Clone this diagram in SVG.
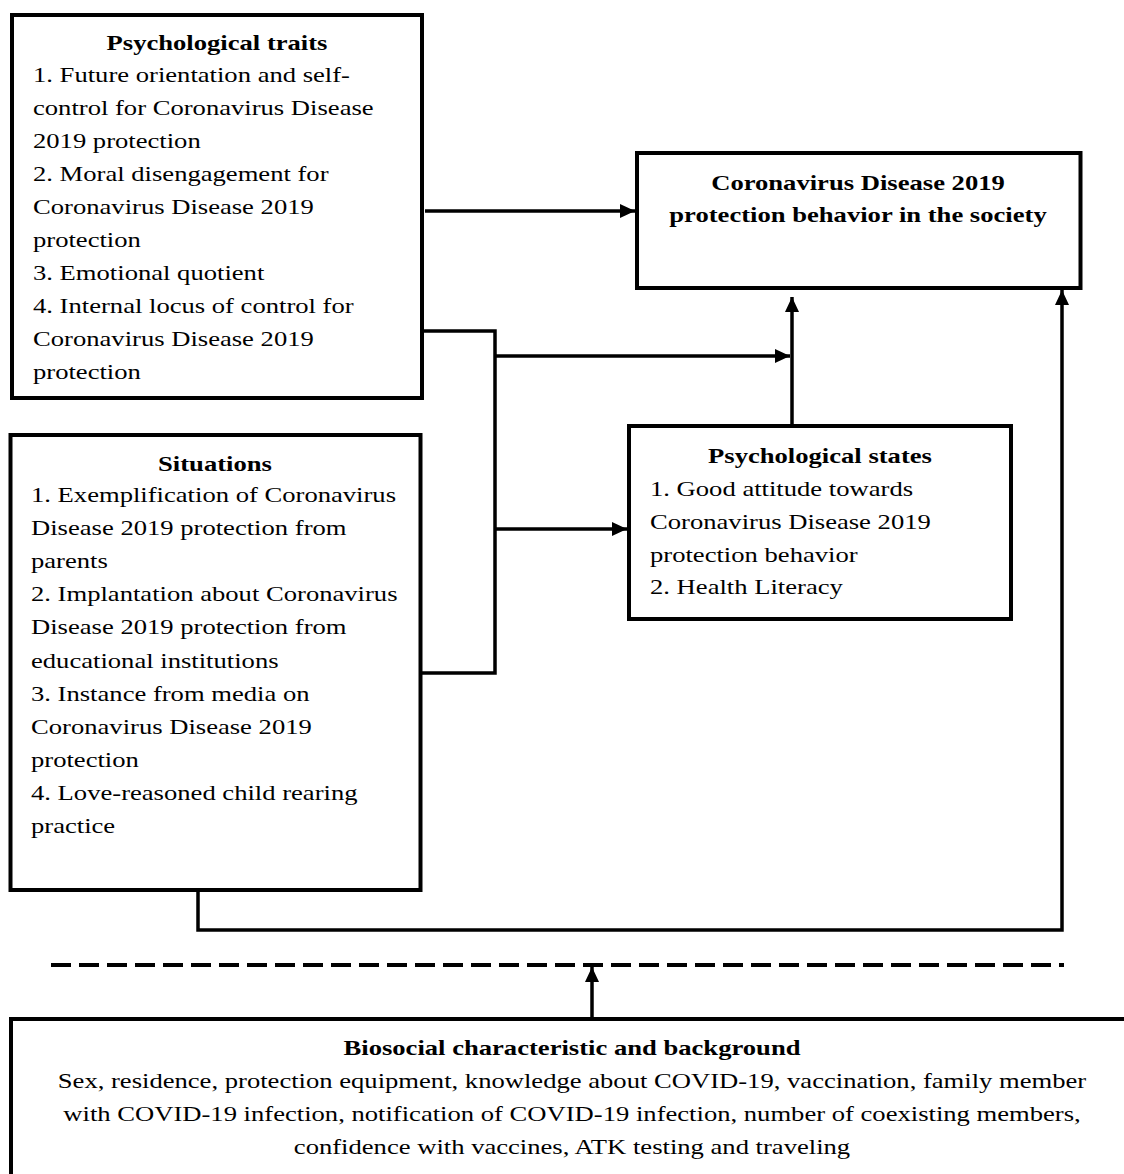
<svg xmlns="http://www.w3.org/2000/svg" width="1124" height="1174" viewBox="0 0 1124 1174">
<style>
.box{fill:#fff;stroke:#000;stroke-width:4}
.ln{fill:none;stroke:#000;stroke-width:3.5}
.dash{fill:none;stroke:#000;stroke-width:4;stroke-dasharray:20 8}
text{font-family:"Liberation Serif","Times New Roman",serif;font-size:22px;fill:#000}
.b{font-weight:bold}
.c{text-anchor:middle}
</style>
<defs>
<marker id="ah" markerUnits="userSpaceOnUse" markerWidth="15" markerHeight="14" refX="15" refY="7" orient="auto">
<path d="M0,0 L15,7 L0,14 z" fill="#000"/>
</marker>
</defs>
<rect width="1124" height="1174" fill="#fff"/>

<g id="connectors">
<path class="ln" d="M425,211 H635" marker-end="url(#ah)"/>
<path class="ln" d="M422,331 H495 V673 H420"/>
<path class="ln" d="M495,356 H790" marker-end="url(#ah)"/>
<path class="ln" d="M495,529 H627" marker-end="url(#ah)"/>
<path class="ln" d="M792,426 V297" marker-end="url(#ah)"/>
<path class="ln" d="M198,890 V930 H1062 V290" marker-end="url(#ah)"/>
<path class="dash" d="M51,965 H1064"/>
<path class="ln" d="M592,1019 V967" marker-end="url(#ah)"/>
</g>

<g id="traits">
<rect class="box" x="12" y="15" width="410" height="383"/>
<text class="b c" transform="translate(217,50) scale(1.21,1)">Psychological traits</text>
<g transform="translate(33,0) scale(1.21,1)">
<text x="0" y="82">1. Future orientation and self-</text>
<text x="0" y="115">control for Coronavirus Disease</text>
<text x="0" y="148">2019 protection</text>
<text x="0" y="181">2. Moral disengagement for</text>
<text x="0" y="214">Coronavirus Disease 2019</text>
<text x="0" y="247">protection</text>
<text x="0" y="280">3. Emotional quotient</text>
<text x="0" y="313">4. Internal locus of control for</text>
<text x="0" y="346">Coronavirus Disease 2019</text>
<text x="0" y="379">protection</text>
</g>
</g>

<g id="outcome">
<rect class="box" x="637" y="153" width="443.5" height="135"/>
<text class="b c" transform="translate(858,190) scale(1.21,1)">Coronavirus Disease 2019</text>
<text class="b c" transform="translate(858,222) scale(1.21,1)">protection behavior in the society</text>
</g>

<g id="situations">
<rect class="box" x="10.5" y="435" width="410" height="455"/>
<text class="b c" transform="translate(215,471) scale(1.21,1)">Situations</text>
<g transform="translate(31,0) scale(1.21,1)">
<text x="0" y="502">1. Exemplification of Coronavirus</text>
<text x="0" y="535">Disease 2019 protection from</text>
<text x="0" y="568">parents</text>
<text x="0" y="601">2. Implantation about Coronavirus</text>
<text x="0" y="634">Disease 2019 protection from</text>
<text x="0" y="668">educational institutions</text>
<text x="0" y="701">3. Instance from media on</text>
<text x="0" y="734">Coronavirus Disease 2019</text>
<text x="0" y="767">protection</text>
<text x="0" y="800">4. Love-reasoned child rearing</text>
<text x="0" y="833">practice</text>
</g>
</g>

<g id="states">
<rect class="box" x="629" y="426" width="382" height="193"/>
<text class="b c" transform="translate(820,463) scale(1.21,1)">Psychological states</text>
<g transform="translate(650,0) scale(1.21,1)">
<text x="0" y="496">1. Good attitude towards</text>
<text x="0" y="529">Coronavirus Disease 2019</text>
<text x="0" y="562">protection behavior</text>
<text x="0" y="594">2. Health Literacy</text>
</g>
</g>

<g id="biosocial">
<rect class="box" x="11" y="1019" width="1140" height="200"/>
<text class="b c" transform="translate(572,1055) scale(1.21,1)">Biosocial characteristic and background</text>
<text class="c" transform="translate(572,1088) scale(1.21,1)">Sex, residence, protection equipment, knowledge about COVID-19, vaccination, family member</text>
<text class="c" transform="translate(572,1121) scale(1.21,1)">with COVID-19 infection, notification of COVID-19 infection, number of coexisting members,</text>
<text class="c" transform="translate(572,1154) scale(1.21,1)">confidence with vaccines, ATK testing and traveling</text>
</g>
</svg>
